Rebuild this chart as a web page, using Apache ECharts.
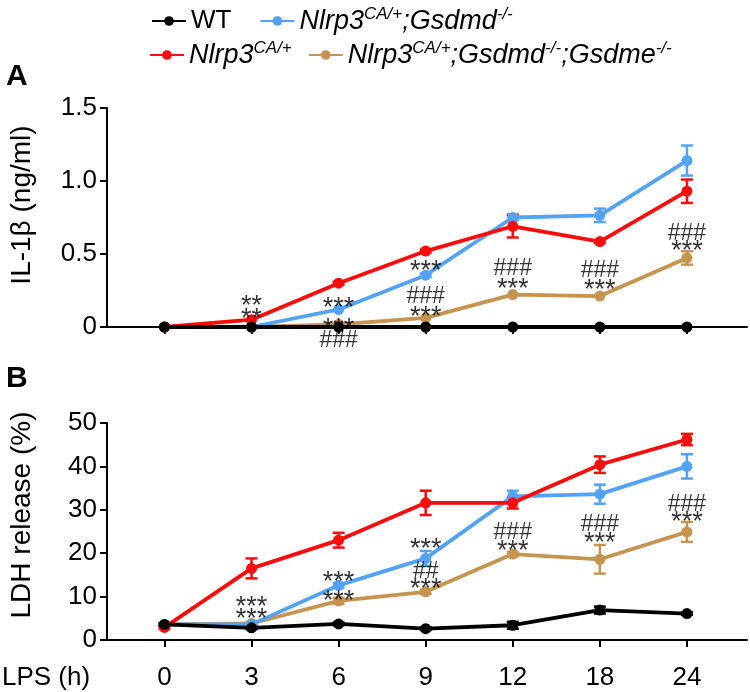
<!DOCTYPE html>
<html><head><meta charset="utf-8">
<script src="https://cdn.jsdelivr.net/npm/echarts@6/dist/echarts.min.js"></script>
<style>html,body{margin:0;padding:0;background:#fff}#c{width:750px;height:692px}</style>
</head><body><div id="c"></div>
<script>
// ---- data ----
const categories = ['0','3','6','9','12','18','24'];
const yTicksA = [0, 0.5, 1.0, 1.5];
const yTicksB = [0, 10, 20, 30, 40, 50];

// Panel A: IL-1beta (ng/ml)
const wtA      = [0, 0, 0, 0, 0, 0, 0];
const redA     = [0, 0.05, 0.30, 0.52, 0.69, 0.585, 0.93];
const redAErr  = [0, 0, 0.01, 0.01, 0.077, 0.01, 0.08];
const blueA    = [0, 0, 0.12, 0.355, 0.75, 0.765, 1.14];
const blueAErr = [0, 0, 0, 0.01, 0.02, 0.046, 0.103];
const brownA   = [0, 0, 0.018, 0.062, 0.222, 0.212, 0.473];
const brownAErr= [0, 0, 0, 0, 0, 0, 0.046];

// Panel B: LDH release (%)
const wtB      = [3.6, 2.8, 3.7, 2.6, 3.4, 6.9, 6.1];
const wtBErr   = [0.3, 0.3, 0.3, 0.3, 0.8, 0.8, 0.3];
const redB     = [2.9, 16.5, 23.0, 31.6, 31.6, 40.4, 46.2];
const redBErr  = [0.3, 2.3, 1.7, 2.8, 1.3, 1.9, 1.3];
const blueB    = [3.6, 3.6, 12.6, 18.8, 33.1, 33.6, 40.0];
const blueBErr = [0.3, 0.3, 0.5, 1.7, 1.3, 2.2, 2.8];
const brownB   = [3.6, 3.8, 9.0, 11.1, 19.8, 18.6, 24.9];
const brownBErr= [0.3, 0.3, 0.7, 0.5, 0.5, 3.3, 2.3];

// significance marks: [category index, y value, text]
const annotA = [[1,0.140,'**'],[1,0.049,'**'],[2,0.126,'***'],[2,-0.020,'***'],[2,-0.091,'###'],
  [3,0.377,'***'],[3,0.205,'###'],[3,0.064,'***'],[4,0.400,'###'],[4,0.259,'***'],
  [5,0.384,'###'],[5,0.247,'***'],[6,0.640,'###'],[6,0.514,'***']];
const annotB = [[1,7.5,'***'],[1,4.8,'***'],[2,13.2,'***'],[2,8.9,'***'],[3,20.9,'***'],
  [3,15.7,'##'],[3,11.6,'***'],[4,24.7,'###'],[4,20.4,'***'],[5,26.5,'###'],[5,22.2,'***'],
  [6,31.1,'###'],[6,27.1,'***']];

const N_WT = 'WT', N_RED = 'Nlrp3CA/+', N_BLUE = 'Nlrp3CA/+;Gsdmd-/-', N_BROWN = 'Nlrp3CA/+;Gsdmd-/-;Gsdme-/-';
const C = { wt:'#000000', red:'#FF0A0A', blue:'#52A3F5', brown:'#C6944F' };

// ---- chart ----
const FONT = 'Liberation Sans, Arial, Helvetica, sans-serif';
const chart = echarts.init(document.getElementById('c'), null, {renderer:'canvas'});
const idx = categories.map((c,i)=>i);

function lineSeries(name, vals, color, ax) {
  return { type:'line', name, xAxisIndex:ax, yAxisIndex:ax,
    data: vals.map((v,i)=>[idx[i], v]),
    symbol:'circle', symbolSize:11, showSymbol:true,
    lineStyle:{color, width:3.8}, itemStyle:{color},
    emphasis:{disabled:true}, animation:false, clip:false };
}
function errSeries(vals, errs, color, ax) {
  return { type:'custom', xAxisIndex:ax, yAxisIndex:ax, silent:true, animation:false, clip:false,
    data: vals.map((v,i)=>[idx[i], v, errs[i]]),
    renderItem(params, api) {
      const x = api.value(0), y = api.value(1), e = api.value(2);
      if (!e) return { type:'group', children:[] };
      const t = api.coord([x, y + e]), b = api.coord([x, y - e]);
      const hw = 6, st = {stroke:color, lineWidth:2.5};
      return { type:'group', children:[
        {type:'line', shape:{x1:t[0],y1:t[1],x2:b[0],y2:b[1]}, style:st},
        {type:'line', shape:{x1:t[0]-hw,y1:t[1],x2:t[0]+hw,y2:t[1]}, style:st},
        {type:'line', shape:{x1:b[0]-hw,y1:b[1],x2:b[0]+hw,y2:b[1]}, style:st}
      ]};
    }
  };
}
function annotSeries(list, ax) {
  return { type:'scatter', xAxisIndex:ax, yAxisIndex:ax, silent:true, animation:false, clip:false,
    symbolSize:0, z:10,
    data: list.map(a => ({ value:[a[0], a[1]], name:a[2],
      label:{ fontSize: a[2].charAt(0) === '*' ? 27 : 23 } })),
    label:{ show:true, position:'inside', formatter:'{b}', color:'#000',
      fontFamily:FONT, fontSize:24 } };
}

function xAxis(grid, showLabels) {
  return { type:'value', gridIndex:grid, min:-0.66, max:6.69,
    axisLine:{show:true, onZero:false, lineStyle:{color:'#000', width:2}},
    axisTick:{show:true, customValues:idx, length:7, lineStyle:{color:'#000', width:2}},
    axisLabel:{show:showLabels, customValues:idx, formatter:v=>categories[Math.round(v)],
      color:'#000', fontFamily:FONT, fontSize:26, margin:25},
    splitLine:{show:false} };
}
function yAxis(grid, max, interval, fmt) {
  return { type:'value', gridIndex:grid, min:0, max, interval,
    axisLine:{show:true, onZero:false, lineStyle:{color:'#000', width:2}},
    axisTick:{show:true, length:7, lineStyle:{color:'#000', width:2}},
    axisLabel:{color:'#000', fontFamily:FONT, fontSize:26, margin:10, formatter:fmt},
    splitLine:{show:false} };
}

const rich = {
  n:{fontFamily:FONT, fontSize:26, color:'#000', lineHeight:30},
  i:{fontFamily:FONT, fontSize:27, fontStyle:'italic', color:'#000', lineHeight:30},
  s:{fontFamily:FONT, fontSize:17, fontStyle:'italic', color:'#000', verticalAlign:'top', lineHeight:20}
};
const legendText = {};
legendText[N_WT] = '{n|WT}';
legendText[N_RED] = '{i|Nlrp3}{s|CA/+}';
legendText[N_BLUE] = '{i|Nlrp3}{s|CA/+}{i|;Gsdmd}{s|-/-}';
legendText[N_BROWN] = '{i|Nlrp3}{s|CA/+}{i|;Gsdmd}{s|-/-}{i|;Gsdme}{s|-/-}';

const option = {
  backgroundColor:'#fff',
  animation:false,
  grid:[
    {left:107, right:3, top:108, height:219, containLabel:false},
    {left:107, right:3, top:423, height:217, containLabel:false}
  ],
  legend:[
    {data:[N_WT, N_BLUE], left:146, top:1, itemWidth:34, itemHeight:12, itemGap:28,
      formatter:n=>legendText[n], textStyle:{rich}, selectedMode:false},
    {data:[N_RED, N_BROWN], left:144, top:35, itemWidth:34, itemHeight:12, itemGap:16,
      formatter:n=>legendText[n], textStyle:{rich}, selectedMode:false}
  ],
  xAxis:[xAxis(0,false), xAxis(1,true)],
  yAxis:[
    yAxis(0, 1.5, 0.5, v => v === 0 ? '0' : v.toFixed(1)),
    yAxis(1, 50, 10, v => String(v))
  ],
  graphic:[
    {type:'text', left:6, top:62, style:{text:'A', font:'bold 30px ' + FONT, fill:'#000'}},
    {type:'text', left:6, top:364, style:{text:'B', font:'bold 30px ' + FONT, fill:'#000'}},
    {type:'text', x:22, y:205, rotation:Math.PI/2,
      style:{text:'IL-1β (ng/ml)', font:'28px ' + FONT, fill:'#000', align:'center', verticalAlign:'middle'}},
    {type:'text', x:22, y:515, rotation:Math.PI/2,
      style:{text:'LDH release (%)', font:'28px ' + FONT, fill:'#000', align:'center', verticalAlign:'middle'}},
    {type:'text', left:2, top:665, style:{text:'LPS (h)', font:'26px ' + FONT, fill:'#000'}}
  ],
  series:[
    errSeries(brownA, brownAErr, C.brown, 0), lineSeries(N_BROWN, brownA, C.brown, 0),
    errSeries(blueA, blueAErr, C.blue, 0), lineSeries(N_BLUE, blueA, C.blue, 0),
    errSeries(redA, redAErr, C.red, 0), lineSeries(N_RED, redA, C.red, 0),
    lineSeries(N_WT, wtA, C.wt, 0),
    annotSeries(annotA, 0),
    errSeries(brownB, brownBErr, C.brown, 1), lineSeries(N_BROWN, brownB, C.brown, 1),
    errSeries(blueB, blueBErr, C.blue, 1), lineSeries(N_BLUE, blueB, C.blue, 1),
    errSeries(redB, redBErr, C.red, 1), lineSeries(N_RED, redB, C.red, 1),
    errSeries(wtB, wtBErr, C.wt, 1), lineSeries(N_WT, wtB, C.wt, 1),
    annotSeries(annotB, 1)
  ]
};
chart.setOption(option);
</script></body></html>
